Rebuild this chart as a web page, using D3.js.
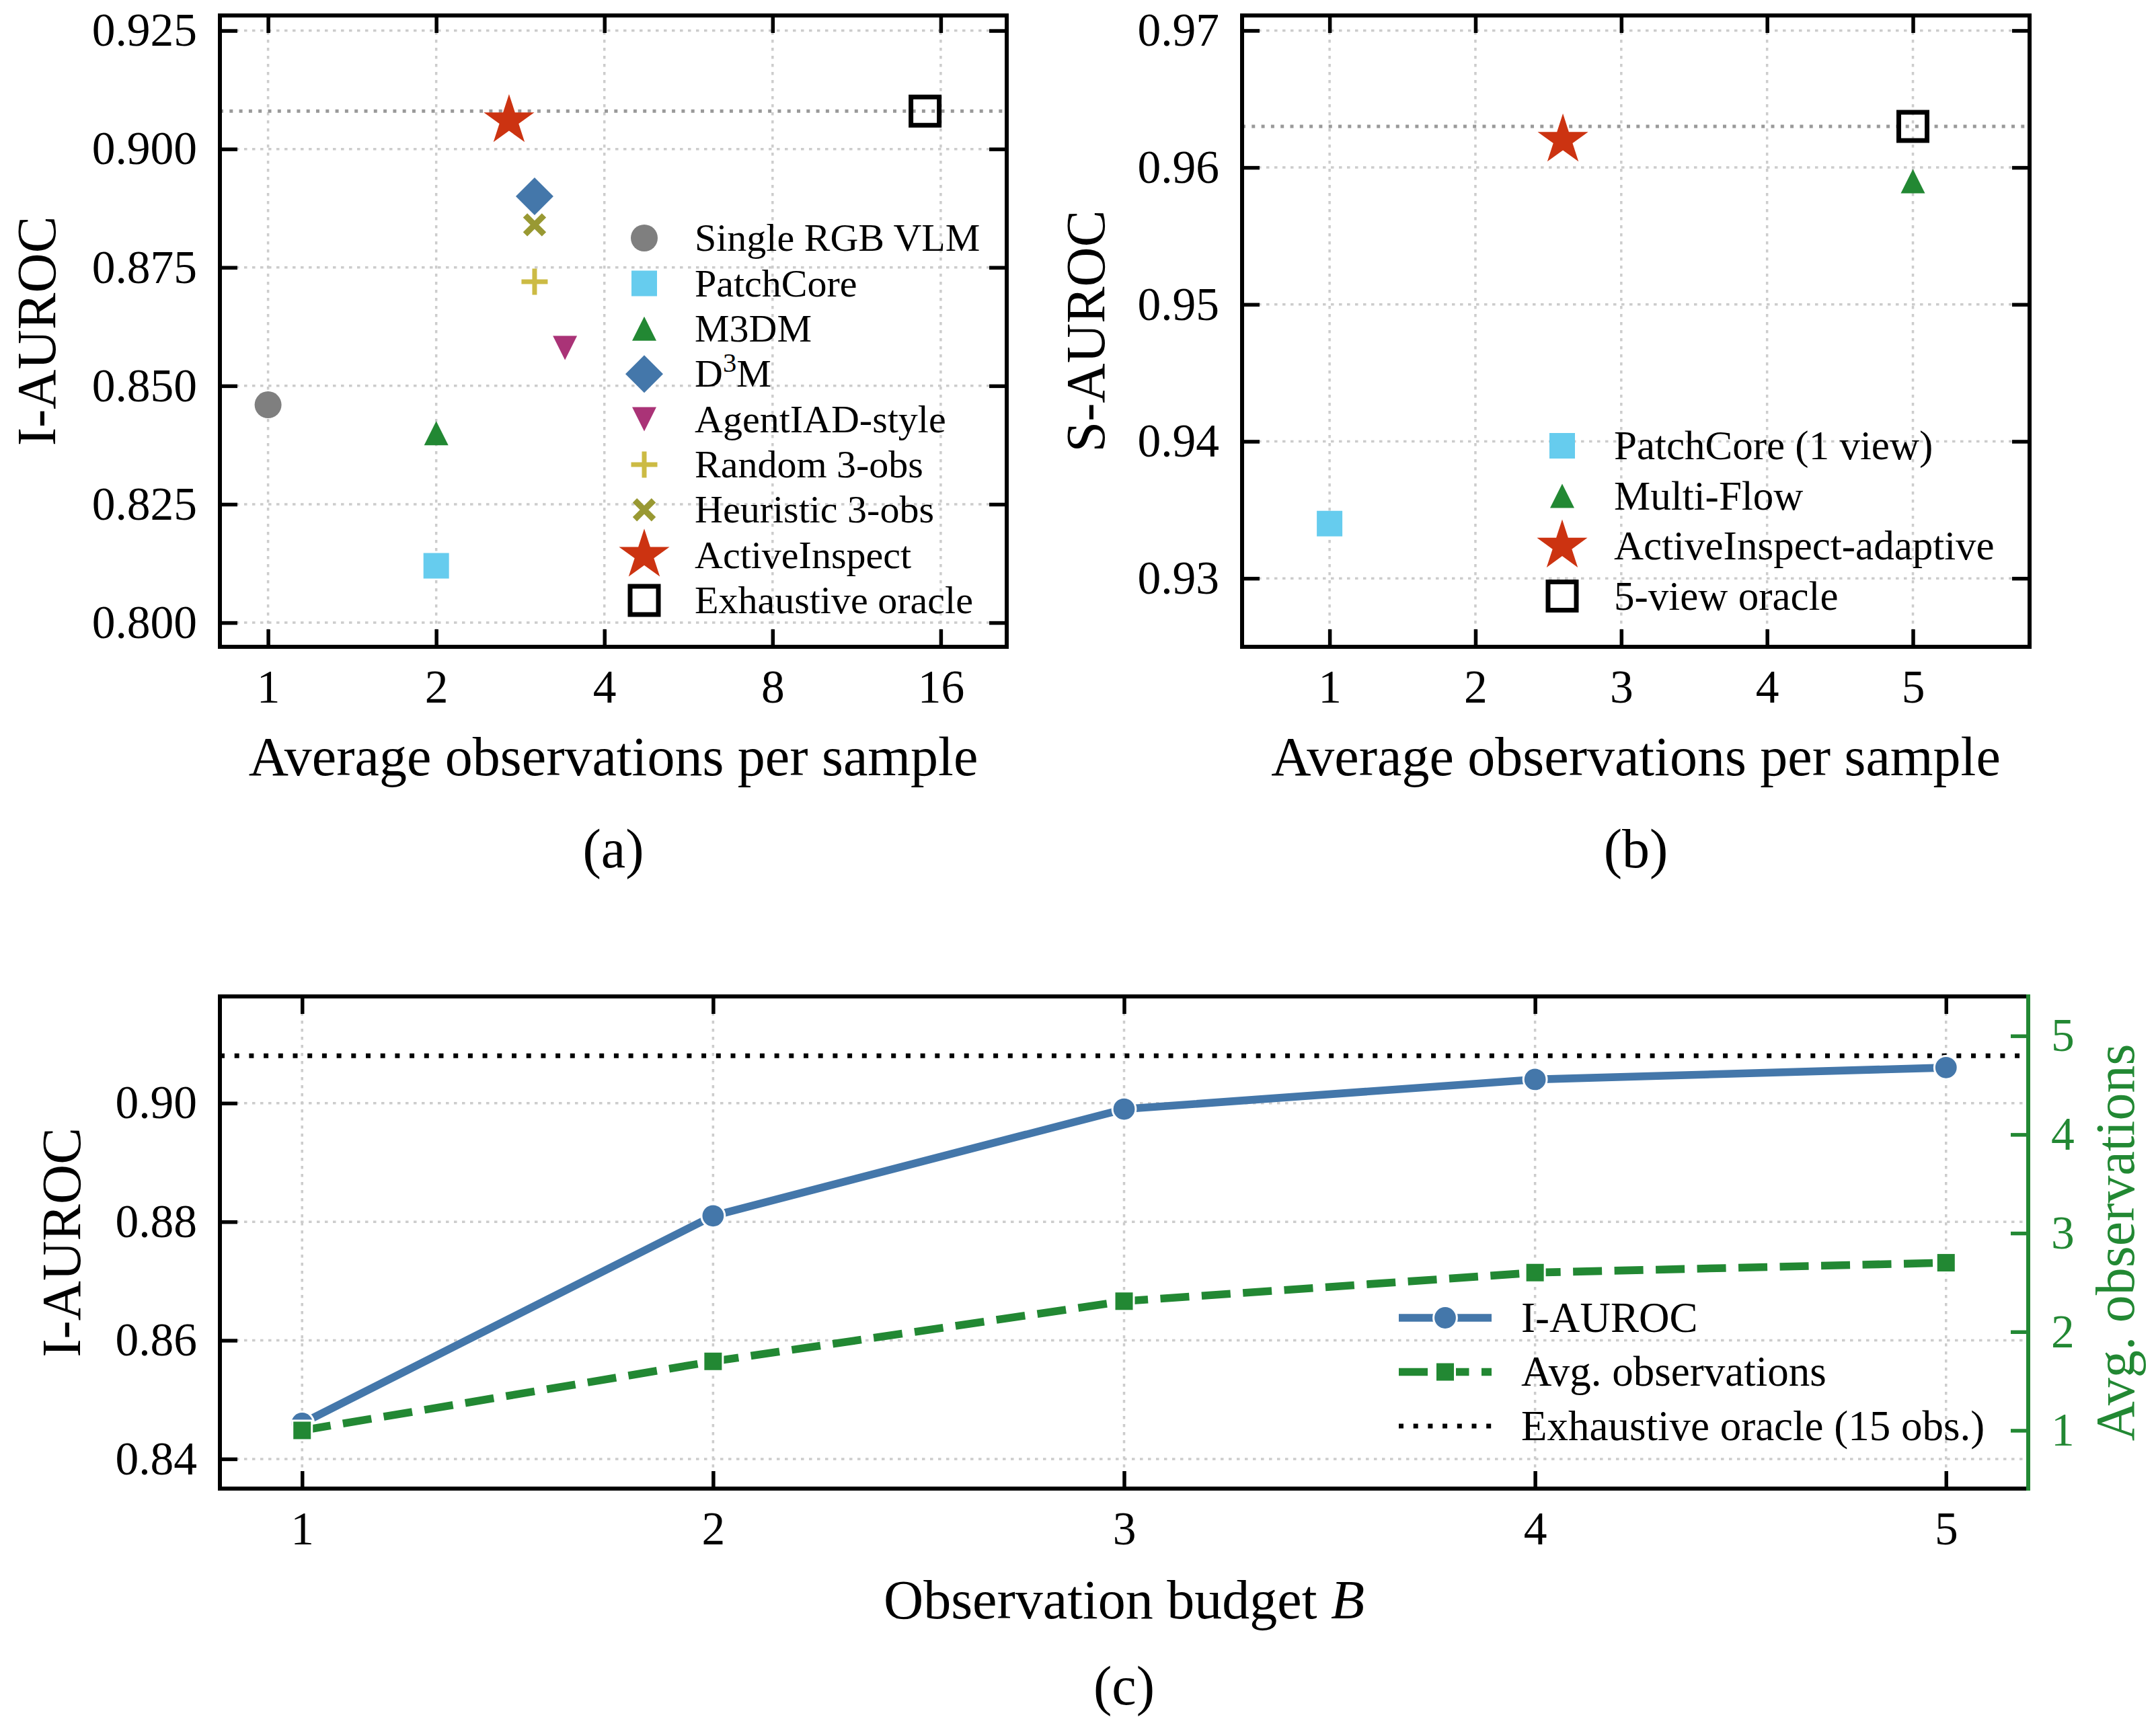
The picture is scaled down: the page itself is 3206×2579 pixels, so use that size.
<!DOCTYPE html>
<html>
<head>
<meta charset="utf-8">
<script src="https://cdn.jsdelivr.net/npm/d3@7"></script>
<style>
  body { margin: 0; background: #fff; }
  text { font-family: "Liberation Serif", "Times New Roman", serif; }
</style>
</head>
<body>
<svg id="fig"></svg>
<script>
// ---- panel (a): I-AUROC vs average observations
const methodsA = ["Single RGB VLM", "PatchCore", "M3DM", "D3M", "AgentIAD-style",
                  "Random 3-obs", "Heuristic 3-obs", "ActiveInspect", "Exhaustive oracle"];
const obsA = [1, 2, 2, 3, 3.4, 3, 3, 2.7, 15];
const aurocA = [0.846, 0.812, 0.840, 0.890, 0.858, 0.872, 0.884, 0.906, 0.908];
const oracleA = 0.908;
const xTicksA = [1, 2, 4, 8, 16];
const yTicksA = [0.800, 0.825, 0.850, 0.875, 0.900, 0.925];

// ---- panel (b): S-AUROC vs average observations
const methodsB = ["PatchCore (1 view)", "Multi-Flow", "ActiveInspect-adaptive", "5-view oracle"];
const obsB = [1, 5, 2.6, 5];
const aurocB = [0.934, 0.959, 0.962, 0.963];
const oracleB = 0.963;
const xTicksB = [1, 2, 3, 4, 5];
const yTicksB = [0.93, 0.94, 0.95, 0.96, 0.97];

// ---- panel (c): budget sweep
const budgets = [1, 2, 3, 4, 5];
const aurocC = [0.846, 0.881, 0.899, 0.904, 0.906];
const avgObsC = [1.00, 1.70, 2.31, 2.60, 2.70];
const oracleC = 0.908;
const yTicksC = [0.84, 0.86, 0.88, 0.90];
const yTicksC2 = [1, 2, 3, 4, 5];
const legendC = ["I-AUROC", "Avg. observations", "Exhaustive oracle (15 obs.)"];

// marker + colour per method
const style = {
  "Single RGB VLM":        { m: "circle",   c: "#7f7f7f" },
  "PatchCore":             { m: "square",   c: "#66CCEE" },
  "PatchCore (1 view)":    { m: "square",   c: "#66CCEE" },
  "M3DM":                  { m: "triUp",    c: "#228833" },
  "Multi-Flow":            { m: "triUp",    c: "#228833" },
  "D3M":                   { m: "diamond",  c: "#4477AA" },
  "AgentIAD-style":        { m: "triDown",  c: "#AA3377" },
  "Random 3-obs":          { m: "plus",     c: "#CCBB44" },
  "Heuristic 3-obs":       { m: "cross",    c: "#999933" },
  "ActiveInspect":         { m: "star",     c: "#CC3311" },
  "ActiveInspect-adaptive":{ m: "star",     c: "#CC3311" },
  "Exhaustive oracle":     { m: "open",     c: "#000000" },
  "5-view oracle":         { m: "open",     c: "#000000" },
};
const blue = "#4477AA", green = "#228833";

const W = 3206, H = 2579;
const tickLen = 26, tickW = 5.5, spineW = 6, pad = 34;
const fsTick = 69.5, fsLabel = 82;

const boxA = { left: 327, right: 1497, top: 23, bottom: 962 };
const boxB = { left: 1847, right: 3018, top: 23, bottom: 962 };
const boxC = { left: 327, right: 3016, top: 1482, bottom: 2214 };

const svg = d3.select("#fig").attr("width", W).attr("height", H);

function markerPath(kind) {
  switch (kind) {
    case "circle": return d3.symbol(d3.symbolCircle, Math.PI * 20 * 20)();
    case "square": return "M-19,-19H19V19H-19Z";
    case "open": return "M-21,-21H21V21H-21Z";
    case "triUp": return "M0,-18L18,18L-18,18Z";
    case "triDown": return "M0,18L18,-18L-18,-18Z";
    case "diamond": return "M0,-28L28,0L0,28L-28,0Z";
    case "plus": return "M-19.5,0H19.5M0,-19.5V19.5";
    case "cross": return "M-14,-14L14,14M-14,14L14,-14";
    case "star": {
      const pts = d3.range(10).map(i => {
        const a = Math.PI * i / 5, r = i % 2 ? 39.5 * 0.382 : 39.5;
        return [r * Math.sin(a), -r * Math.cos(a)];
      });
      return "M" + pts.join("L") + "Z";
    }
  }
}

function drawMarker(g, name, cx, cy) {
  const s = style[name];
  const p = g.append("path").attr("d", markerPath(s.m))
    .attr("transform", `translate(${cx},${cy})`);
  if (s.m === "plus") {
    p.attr("fill", "none").attr("stroke", s.c).attr("stroke-width", 7);
  } else if (s.m === "cross") {
    p.attr("fill", "none").attr("stroke", s.c).attr("stroke-width", 9);
  } else if (s.m === "open") {
    p.attr("fill", "none").attr("stroke", s.c).attr("stroke-width", 7);
  } else {
    p.attr("fill", s.c);
  }
}

function grid(g, box, x, y, xt, yt) {
  const gg = g.append("g").attr("stroke", "#cccccc").attr("stroke-width", 3.5)
    .attr("stroke-dasharray", "4.5,7.5");
  gg.selectAll(".gx").data(xt).join("line").attr("class", "gx")
    .attr("x1", d => x(d)).attr("x2", d => x(d)).attr("y1", box.top).attr("y2", box.bottom);
  gg.selectAll(".gy").data(yt).join("line").attr("class", "gy")
    .attr("y1", d => y(d)).attr("y2", d => y(d)).attr("x1", box.left).attr("x2", box.right);
}

function styleAxis(g, color) {
  g.select(".domain").remove();
  g.attr("font-family", null).attr("font-size", fsTick);
  g.selectAll(".tick line").attr("stroke", color).attr("stroke-width", tickW);
  g.selectAll(".tick text").attr("fill", color);
}

function axes(g, box, x, y, xt, yt, xfmt, yfmt, withRight) {
  g.append("g").attr("transform", `translate(0,${box.bottom})`)
    .call(d3.axisBottom(x).tickValues(xt).tickFormat(xfmt).tickSizeInner(-tickLen).tickSizeOuter(0))
    .call(a => styleAxis(a, "#000"))
    .call(a => a.selectAll(".tick text").attr("y", 83).attr("dy", 0));
  g.append("g").attr("transform", `translate(0,${box.top})`)
    .call(d3.axisTop(x).tickValues(xt).tickFormat("").tickSizeInner(-tickLen).tickSizeOuter(0))
    .call(a => styleAxis(a, "#000"));
  g.append("g").attr("transform", `translate(${box.left},0)`)
    .call(d3.axisLeft(y).tickValues(yt).tickFormat(yfmt).tickSizeInner(-tickLen).tickSizeOuter(0).tickPadding(pad))
    .call(a => styleAxis(a, "#000"));
  if (withRight) {
    g.append("g").attr("transform", `translate(${box.right},0)`)
      .call(d3.axisRight(y).tickValues(yt).tickFormat("").tickSizeInner(-tickLen).tickSizeOuter(0))
      .call(a => styleAxis(a, "#000"));
  }
}

function spines(g, box, rightColor) {
  const s = g.append("g").attr("stroke-width", spineW).attr("fill", "none").attr("stroke-linecap", "square");
  s.append("path").attr("stroke", "#000")
    .attr("d", `M${box.right},${box.top}H${box.left}V${box.bottom}H${box.right}`);
  s.append("path").attr("stroke", rightColor)
    .attr("d", `M${box.right},${box.top}V${box.bottom}`);
}

function labels(g, box, xlab, ylab, yx, caption, xlabY, capY) {
  const cx = (box.left + box.right) / 2, cy = (box.top + box.bottom) / 2;
  const xl = g.append("text").attr("x", cx).attr("y", xlabY).attr("text-anchor", "middle")
    .attr("font-size", fsLabel);
  if (typeof xlab === "string") xl.text(xlab); else xlab(xl);
  g.append("text").attr("transform", `translate(${yx},${cy}) rotate(-90)`)
    .attr("text-anchor", "middle").attr("font-size", fsLabel).text(ylab);
  g.append("text").attr("x", cx).attr("y", capY).attr("text-anchor", "middle")
    .attr("font-size", fsLabel).text(caption);
}

function legendText(g, name, x, y, fs) {
  const t = g.append("text").attr("x", x).attr("y", y).attr("dy", "0.33em").attr("font-size", fs);
  if (name === "D3M") {
    t.append("tspan").text("D");
    t.append("tspan").attr("font-size", fs * 0.7).attr("dy", "-0.55em").text("3");
    t.append("tspan").attr("dy", "0.385em").text("M");
  } else t.text(name);
}

// ================= panel (a)
{
  const g = svg.append("g");
  const x = d3.scaleLog().base(2).domain([0.82, 21.0]).range([boxA.left, boxA.right]);
  const y = d3.scaleLinear().domain([0.7949, 0.9282]).range([boxA.bottom, boxA.top]);
  grid(g, boxA, x, y, xTicksA, yTicksA);
  g.append("line").attr("x1", boxA.left).attr("x2", boxA.right)
    .attr("y1", y(oracleA)).attr("y2", y(oracleA))
    .attr("stroke", "#999").attr("stroke-width", 5).attr("stroke-dasharray", "5,9.3");
  methodsA.forEach((m, i) => drawMarker(g, m, x(obsA[i]), y(aurocA[i])));
  axes(g, boxA, x, y, xTicksA, yTicksA, d3.format("d"), d3.format(".3f"), true);
  spines(g, boxA, "#000");
  labels(g, boxA, "Average observations per sample", "I-AUROC", 82, "(a)", 1153, 1290);
  const leg = d3.scalePoint().domain(methodsA).range([354, 893]);
  methodsA.forEach(m => {
    drawMarker(g, m, 958, leg(m));
    legendText(g, m, 1033, leg(m), 58);
  });
}

// ================= panel (b)
{
  const g = svg.append("g");
  const x = d3.scaleLinear().domain([0.4, 5.8]).range([boxB.left, boxB.right]);
  const y = d3.scaleLinear().domain([0.925, 0.9711]).range([boxB.bottom, boxB.top]);
  grid(g, boxB, x, y, xTicksB, yTicksB);
  g.append("line").attr("x1", boxB.left).attr("x2", boxB.right)
    .attr("y1", y(oracleB)).attr("y2", y(oracleB))
    .attr("stroke", "#999").attr("stroke-width", 5).attr("stroke-dasharray", "5,9.3");
  methodsB.forEach((m, i) => drawMarker(g, m, x(obsB[i]), y(aurocB[i])));
  axes(g, boxB, x, y, xTicksB, yTicksB, d3.format("d"), d3.format(".2f"), true);
  spines(g, boxB, "#000");
  labels(g, boxB, "Average observations per sample", "S-AUROC", 1642, "(b)", 1153, 1290);
  const leg = d3.scalePoint().domain(methodsB).range([663, 886.5]);
  methodsB.forEach(m => {
    drawMarker(g, m, 2323, leg(m));
    legendText(g, m, 2400, leg(m), 61);
  });
}

// ================= panel (c)
{
  const g = svg.append("g");
  const x = d3.scaleLinear().domain([0.8, 5.2]).range([boxC.left, boxC.right]);
  const y = d3.scaleLinear().domain([0.835, 0.918]).range([boxC.bottom, boxC.top]);
  const y2 = d3.scaleLinear().domain([0.41, 5.40]).range([boxC.bottom, boxC.top]);
  grid(g, boxC, x, y, budgets, yTicksC);

  // oracle reference
  g.append("line").attr("x1", boxC.left).attr("x2", boxC.right)
    .attr("y1", y(oracleC)).attr("y2", y(oracleC))
    .attr("stroke", "#000").attr("stroke-width", 7).attr("stroke-dasharray", "7,14.7");

  // I-AUROC line
  g.append("path").datum(budgets.map((b, i) => [b, aurocC[i]]))
    .attr("d", d3.line().x(d => x(d[0])).y(d => y(d[1])))
    .attr("fill", "none").attr("stroke", blue).attr("stroke-width", 11.6).attr("stroke-linejoin", "round");
  g.append("g").selectAll("circle").data(budgets).join("circle")
    .attr("cx", d => x(d)).attr("cy", (d, i) => y(aurocC[i])).attr("r", 17.4)
    .attr("fill", blue).attr("stroke", "#fff").attr("stroke-width", 3);

  // avg observations (twin axis)
  g.append("path").datum(budgets.map((b, i) => [b, avgObsC[i]]))
    .attr("d", d3.line().x(d => x(d[0])).y(d => y2(d[1])))
    .attr("fill", "none").attr("stroke", green).attr("stroke-width", 11.6)
    .attr("stroke-dasharray", "43,18.5");
  g.append("g").selectAll("rect").data(budgets).join("rect")
    .attr("x", d => x(d) - 14.5).attr("y", (d, i) => y2(avgObsC[i]) - 14.5)
    .attr("width", 29).attr("height", 29)
    .attr("fill", green).attr("stroke", "#fff").attr("stroke-width", 3);

  axes(g, boxC, x, y, budgets, yTicksC, d3.format("d"), d3.format(".2f"), false);
  g.append("g").attr("transform", `translate(${boxC.right},0)`)
    .call(d3.axisRight(y2).tickValues(yTicksC2).tickFormat(d3.format("d"))
      .tickSizeInner(-tickLen).tickSizeOuter(0).tickPadding(pad))
    .call(a => styleAxis(a, green));
  spines(g, boxC, green);

  labels(g, boxC, t => {
    t.append("tspan").text("Observation budget ");
    t.append("tspan").attr("font-style", "italic").text("B");
  }, "I-AUROC", 119, "(c)", 2407, 2535);
  g.append("text").attr("transform", `translate(3173,${(boxC.top + boxC.bottom) / 2}) rotate(-90)`)
    .attr("text-anchor", "middle").attr("font-size", fsLabel).attr("fill", green)
    .text("Avg. observations");

  // legend
  const leg = d3.scalePoint().domain(legendC).range([1960, 2121]);
  const lx0 = 2080, lx1 = 2218, lm = (lx0 + lx1) / 2;
  g.append("line").attr("x1", lx0).attr("x2", lx1).attr("y1", leg(legendC[0])).attr("y2", leg(legendC[0]))
    .attr("stroke", blue).attr("stroke-width", 11.6);
  g.append("circle").attr("cx", lm).attr("cy", leg(legendC[0])).attr("r", 17.4)
    .attr("fill", blue).attr("stroke", "#fff").attr("stroke-width", 3);
  g.append("line").attr("x1", lx0).attr("x2", lx1).attr("y1", leg(legendC[1])).attr("y2", leg(legendC[1]))
    .attr("stroke", green).attr("stroke-width", 11.6).attr("stroke-dasharray", "43,18.5");
  g.append("rect").attr("x", lm - 14.5).attr("y", leg(legendC[1]) - 14.5).attr("width", 29).attr("height", 29)
    .attr("fill", green).attr("stroke", "#fff").attr("stroke-width", 3);
  g.append("line").attr("x1", lx0).attr("x2", lx1).attr("y1", leg(legendC[2])).attr("y2", leg(legendC[2]))
    .attr("stroke", "#000").attr("stroke-width", 7).attr("stroke-dasharray", "7,14.7");
  legendC.forEach(n => legendText(g, n, 2262, leg(n), 63));
}
</script>
</body>
</html>
